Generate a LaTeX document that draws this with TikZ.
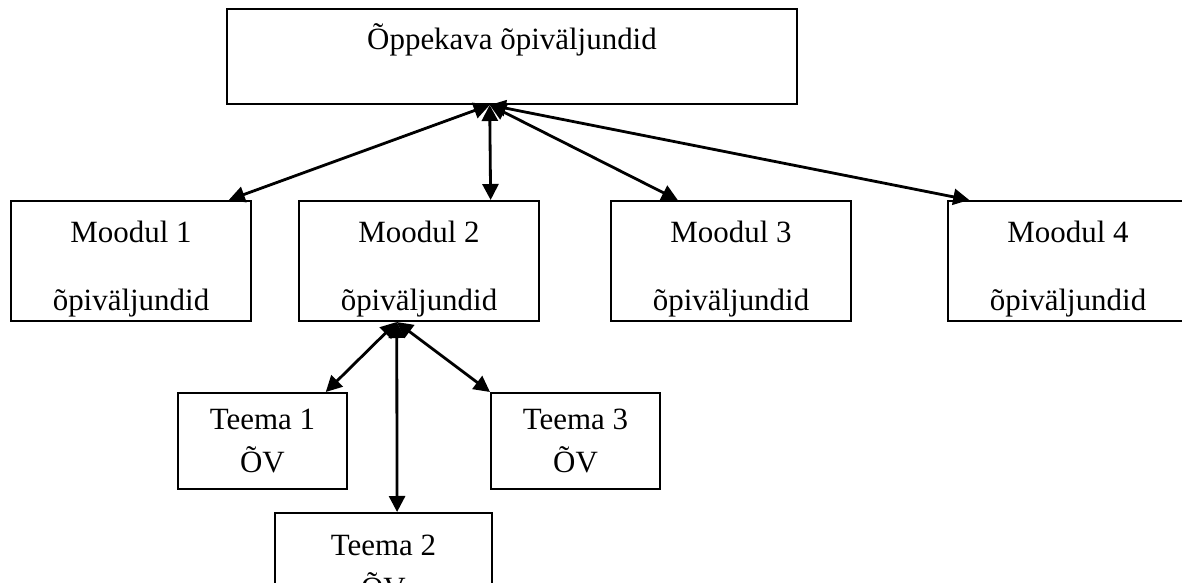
\documentclass[tikz,border=0pt]{standalone}
\usepackage{fontspec}
\setmainfont{Liberation Serif}
\usepackage{tikz}
\usetikzlibrary{calc, positioning}
\usetikzlibrary{arrows.meta}
\tikzset{>=stealth}
\tikzset{
  box/.style={draw, line width=1.4pt, align=center, inner sep=0pt},
  modbox/.style={box, minimum width=6cm, minimum height=3cm},
  teemabox/.style={box, minimum width=4.225cm, minimum height=2.4cm},
  link/.style={line width=2pt, {Triangle[length=4mm,width=4mm]}-{Triangle[length=4mm,width=4mm]}}
}
\newcommand{\modtext}[1]{\rule{0pt}{27pt}Moodul #1\\[22pt]õpiväljundid}

\begin{document}
\begin{tikzpicture}[x=0.025cm, y=-0.025cm, font=\fontsize{22}{26}\selectfont]
	\useasboundingbox (0,0) rectangle (1182,583);
	% top box
	\node[box, minimum width=14.25cm, minimum height=2.375cm] (ok) at (512,56.5) {};
	\node (okText) at (512,40) {Õppekava õpiväljundid};
	% modules
	\node[modbox] (m1) at (131,261) {\modtext{1}};
	\node[modbox] (m2) at (419,261) {\modtext{2}};
	\node[modbox] (m3) at (731,261) {\modtext{3}};
	\node[modbox] (m4) at (1068,261) {\modtext{4}};
	% themes
	\node[teemabox] (t1) at (262.5,441) {Teema 1\\[4pt]ÕV};
	\node[teemabox] (t3) at (575.5,441) {Teema 3\\[4pt]ÕV};
	\node[teemabox, minimum width=5.425cm, minimum height=2.7cm] (t2) at (383.5,567) {Teema 2\\[4pt]ÕV};
	% arrows
	\coordinate (hub) at ($(ok.south west)!0.461!(ok.south east)$);
	\coordinate (sub) at ($(m2.south west)!0.408!(m2.south east)$);
	\draw[link] (hub) -- ($(m1.north west)!0.904!(m1.north east)$);
	\draw[link] (hub) -- ($(m2.north west)!0.796!(m2.north east)$);
	\draw[link] (hub) -- ($(m3.north west)!0.28!(m3.north east)$);
	\draw[link] (hub) -- ($(m4.north west)!0.092!(m4.north east)$);
	\draw[link] (sub) -- ($(t1.north west)!0.87!(t1.north east)$);
	\draw[link] (sub) -- ($(t2.north west)!0.562!(t2.north east)$);
	\draw[link] (sub) -- (t3.north west);
\end{tikzpicture}
\end{document}
